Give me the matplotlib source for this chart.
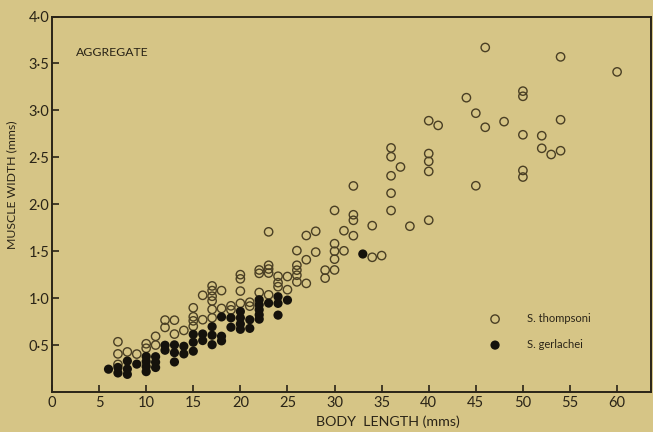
import matplotlib
matplotlib.use("Agg")
import matplotlib.pyplot as plt
import numpy as np

# ---- data (body length in mm, muscle width in mm) ----
thompsoni_length = [7, 7, 7, 8, 9, 10, 10, 11, 11, 12, 12, 13, 13, 14,
                    15, 15, 15, 15, 16, 16, 17, 17, 17, 17, 17, 17, 18, 18,
                    19, 19, 20, 20, 20, 20, 21, 21, 22, 22, 22,
                    23, 23, 23, 23, 23, 24, 24, 24, 25, 25,
                    26, 26, 26, 26, 26, 27, 27, 27, 28, 28, 29, 29,
                    30, 30, 30, 30, 30, 31, 31, 32, 32, 32, 32, 34, 34, 35,
                    36, 36, 36, 36, 36, 37, 38, 40, 40, 40, 40, 40, 41, 44,
                    45, 45, 46, 46, 48, 50, 50, 50, 50, 50, 52, 52, 53,
                    54, 54, 54, 60]
thompsoni_width = [0.535, 0.406, 0.294, 0.427, 0.404, 0.514, 0.466, 0.593, 0.500, 0.766, 0.688, 0.765, 0.617, 0.656,
                   0.897, 0.801, 0.758, 0.700, 1.030, 0.770, 1.130, 1.080, 1.020, 0.970, 0.880, 0.790, 1.080, 0.890,
                   0.918, 0.875, 1.250, 1.205, 1.075, 0.945, 0.956, 0.915, 1.300, 1.264, 1.060,
                   1.706, 1.350, 1.310, 1.267, 1.035, 1.233, 1.165, 1.122, 1.230, 1.090,
                   1.506, 1.350, 1.298, 1.244, 1.173, 1.667, 1.409, 1.157, 1.712, 1.490, 1.298, 1.213,
                   1.934, 1.580, 1.500, 1.415, 1.300, 1.718, 1.504, 2.195, 1.888, 1.829, 1.665, 1.772, 1.435, 1.453,
                   2.600, 2.506, 2.303, 2.118, 1.933, 2.397, 1.766, 2.890, 2.540, 2.457, 2.350, 1.830, 2.840, 3.135,
                   2.970, 2.197, 3.670, 2.820, 2.880, 3.205, 3.150, 2.740, 2.360, 2.290, 2.730, 2.596, 2.530,
                   3.570, 2.900, 2.570, 3.410]

gerlachei_length = [6, 7, 7, 8, 8, 8, 9, 10, 10, 10, 10, 11, 11, 11, 12, 12,
                    13, 13, 13, 14, 14, 15, 15, 15, 16, 16, 17, 17, 17,
                    18, 18, 18, 19, 19, 20, 20, 20, 20, 21, 21,
                    22, 22, 22, 22, 22, 23, 24, 24, 24, 25, 33]
gerlachei_width = [0.243, 0.262, 0.203, 0.330, 0.245, 0.188, 0.297, 0.378, 0.324, 0.271, 0.217, 0.376, 0.318, 0.261, 0.498, 0.445,
                   0.502, 0.419, 0.320, 0.487, 0.406, 0.614, 0.530, 0.435, 0.618, 0.548, 0.696, 0.605, 0.504,
                   0.800, 0.594, 0.545, 0.790, 0.690, 0.858, 0.790, 0.724, 0.668, 0.770, 0.678,
                   0.983, 0.929, 0.876, 0.822, 0.776, 0.947, 1.015, 0.944, 0.819, 0.979, 1.470]

x_ticks = [0, 5, 10, 15, 20, 25, 30, 35, 40, 45, 50, 55, 60]
y_ticks = [0.5, 1.0, 1.5, 2.0, 2.5, 3.0, 3.5, 4.0]
y_tick_labels = ["0·5", "1·0", "1·5", "2·0", "2·5", "3·0", "3·5", "4·0"]

# ---- style ----
bg = "#d6c586"
ink = "#2a2417"
open_ink = "#4a3f24"
plt.rcParams["font.family"] = ["Lato", "DejaVu Sans"]

fig = plt.figure(figsize=(6.53, 4.32), dpi=100)
fig.patch.set_facecolor(bg)
ax = fig.add_axes([52 / 653, 40 / 432, (651 - 52) / 653, (415.5 - 40) / 432])
ax.set_facecolor(bg)

ax.scatter(thompsoni_length, thompsoni_width, s=36, facecolors="none",
           edgecolors=open_ink, linewidths=1.0, label="S. thompsoni", zorder=2)
ax.scatter(gerlachei_length, gerlachei_width, s=44, c="#15120c",
           edgecolors="none", label="S. gerlachei", zorder=3)

ax.set_xlim(0, 63.6)
ax.set_ylim(0, 4.0)
ax.set_xticks(x_ticks)
ax.set_xticklabels([str(v) for v in x_ticks])
ax.set_yticks(y_ticks)
ax.set_yticklabels(y_tick_labels)
ax.tick_params(direction="in", length=5, width=1.2, color=ink,
               labelsize=10.5, labelcolor=ink, pad=3)
ax.tick_params(axis="y", pad=2)
for s in ax.spines.values():
    s.set_color(ink)
    s.set_linewidth(1.4)

fig.text(12 / 653, 1 - 185 / 432, "MUSCLE WIDTH (mms)", rotation=90,
         ha="center", va="center", fontsize=8.8, color=ink)
fig.text(388 / 653, 1 - 422 / 432, "BODY  LENGTH (mms)",
         ha="center", va="center", fontsize=10.3, color=ink)
fig.text(76 / 653, 1 - 53 / 432, "AGGREGATE", ha="left", va="center",
         fontsize=8.8, color=ink)

ax.legend(loc="upper left", bbox_to_anchor=((495 - 5.5) / 653, 1 - 313 / 432),
          bbox_transform=fig.transFigure, frameon=False, borderpad=0,
          borderaxespad=0, handlelength=1.0, handletextpad=2.4,
          labelspacing=1.35, fontsize=8, labelcolor=ink, scatterpoints=1)

fig.savefig("out.png", dpi=100, facecolor=bg)
